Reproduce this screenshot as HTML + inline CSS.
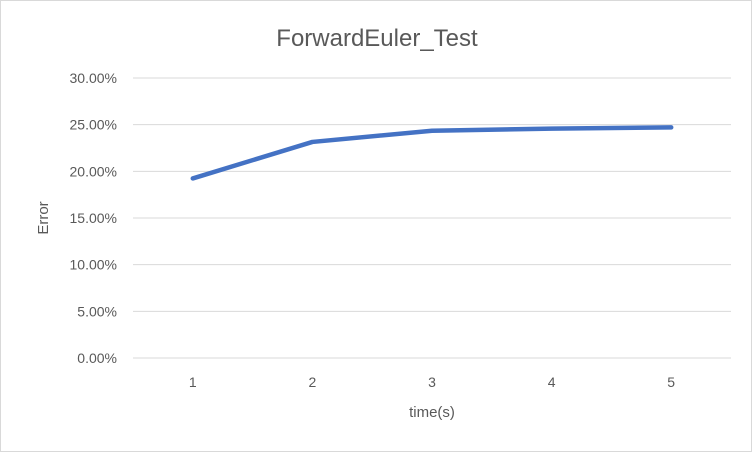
<!DOCTYPE html>
<html><head><meta charset="utf-8"><style>
body{margin:0;background:#fff;}
svg{display:block;font-family:"Liberation Sans",sans-serif;}
</style></head><body>
<svg id="chart" width="752" height="452">
<rect x="0.5" y="0.5" width="751" height="451" fill="#fff" stroke="#d9d9d9"/>
<text x="377" y="46" text-anchor="middle" font-size="24" fill="#595959">ForwardEuler_Test</text>
<text transform="translate(48,218) rotate(-90)" text-anchor="middle" font-size="15" fill="#595959">Error</text>
<text x="432" y="417" text-anchor="middle" font-size="15" fill="#595959">time(s)</text>
<g id="grid"></g><g id="xt"></g><g id="series"></g>
</svg>
<script>
const categories=["1","2","3","4","5"];
const errorValues=[19.24,23.15,24.35,24.57,24.71];
const yTicks=[0,5,10,15,20,25,30];
const L=133,R=731,T=78,B=358,ymax=30;
const ns="http://www.w3.org/2000/svg";
const xs=i=>L+(R-L)/categories.length*(i+0.5);
const ys=v=>B-(B-T)*v/ymax;
const grid=document.getElementById('grid');
yTicks.forEach(t=>{
 const l=document.createElementNS(ns,'line');
 l.setAttribute('x1',L);l.setAttribute('x2',R);l.setAttribute('y1',ys(t));l.setAttribute('y2',ys(t));
 l.setAttribute('stroke','#d9d9d9');l.setAttribute('stroke-width','1');
 
 
 grid.appendChild(l);
 const tx=document.createElementNS(ns,'text');
 tx.setAttribute('x',117);tx.setAttribute('y',ys(t)+5);tx.setAttribute('text-anchor','end');
 tx.setAttribute('font-size','14');tx.setAttribute('fill','#595959');
 tx.textContent=t.toFixed(2)+'%';
 
 
 grid.appendChild(tx);
});
const xt=document.getElementById('xt');
categories.forEach((c,i)=>{
 const tx=document.createElementNS(ns,'text');
 tx.setAttribute('x',xs(i));tx.setAttribute('y',387);tx.setAttribute('text-anchor','middle');
 tx.setAttribute('font-size','14');tx.setAttribute('fill','#595959');
 tx.textContent=c;
 
 
 xt.appendChild(tx);
});
const p=document.createElementNS(ns,'polyline');
p.setAttribute('points',errorValues.map((v,i)=>xs(i)+','+ys(v)).join(' '));
p.setAttribute('fill','none');p.setAttribute('stroke','#4472c4');p.setAttribute('stroke-width','4.5');
p.setAttribute('stroke-linecap','round');p.setAttribute('stroke-linejoin','round');


document.getElementById('series').appendChild(p);
</script>
</body></html>
